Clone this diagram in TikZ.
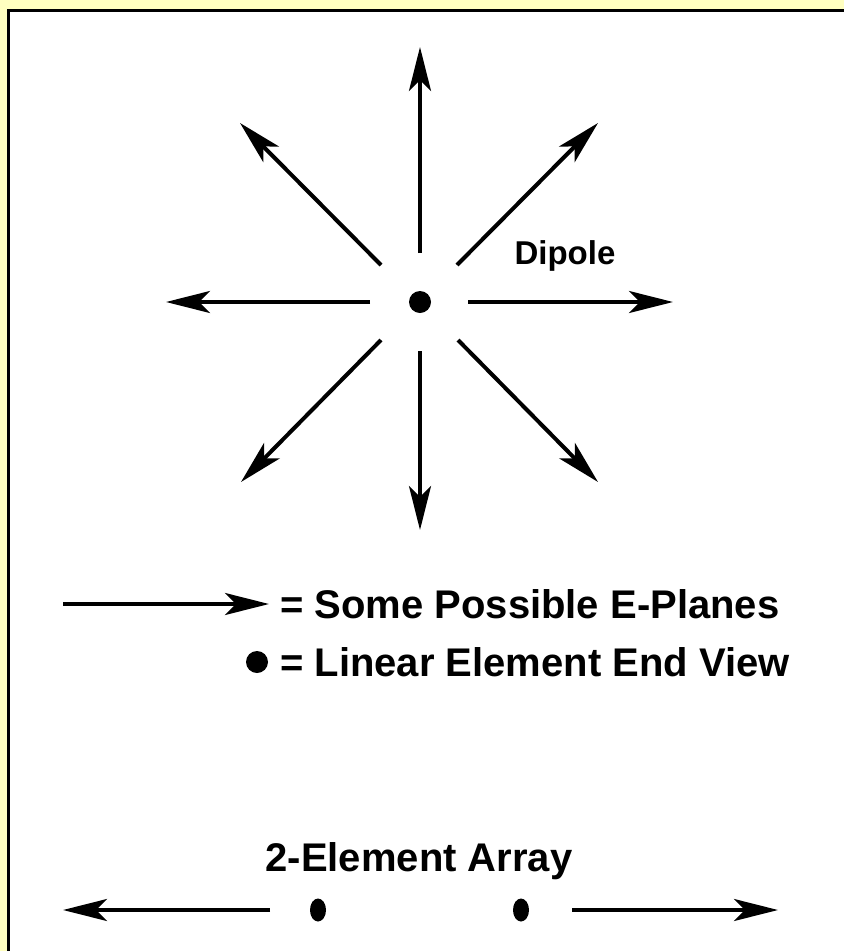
\documentclass[tikz,border=0pt]{standalone}
\usepackage{fontspec}
\setmainfont{Liberation Sans}
\usetikzlibrary{arrows.meta,shapes.geometric}
\definecolor{PageYellow}{RGB}{255,255,192}

\begin{document}
\begin{tikzpicture}[x=1pt, y=-1pt, font=\bfseries,
  eplane/.style={line width=4pt, -{Stealth[length=44pt,width=22pt,inset=11pt]}},
  elem/.style={circle, fill=black, minimum size=22pt, inner sep=0pt},
  endview/.style={ellipse, fill=black, minimum width=16pt, minimum height=23pt, inner sep=0pt},
  bigtxt/.style={inner sep=0pt, font=\bfseries\fontsize{40}{46}\selectfont},
  smalltxt/.style={inner sep=0pt, font=\bfseries\fontsize{33}{38}\selectfont}]
  \useasboundingbox (0,0) rectangle (844,951);
  \fill[PageYellow] (0,0) rectangle (844,951);
  \fill[white] (8.5,10.5) rectangle (844,951);
  \draw[line width=3.5pt] (8.5,951) -- (8.5,10.5) -- (844,10.5);

  % dipole seen end-on, with the E-planes round it
  \node[elem] (dip) at (420,302) {};
  \foreach \d/\tx/\ty/\hx/\hy in {n/420/253/420/47, ne/457/265/598/123,
      e/468/302/673/302, se/458/340/598/482, s/420/351/420/530,
      sw/381/340/241/482, w/370/302/166/302, nw/381/265/240/123} {
    \coordinate (t\d) at (\tx,\ty);
    \coordinate (h\d) at (\hx,\hy);
    \draw[eplane] (t\d) -- (h\d);
  }
  \node[smalltxt, anchor=base] (diplbl) at (565,264) {Dipole};

  % legend
  \coordinate (legtail) at (63,604);
  \coordinate (leghead) at (269,604);
  \draw[eplane] (legtail) -- (leghead);
  \node[bigtxt, anchor=base west] (leg1) at (280,618) {= Some Possible E-Planes};
  \node[elem] (legdot) at (257,662) {};
  \node[bigtxt, anchor=base west] (leg2) at (280,676) {= Linear Element End View};

  % two-element array
  \node[bigtxt, anchor=base] (arrlbl) at (419,871) {2-Element Array};
  \node[endview] (el1) at (318,910) {};
  \node[endview] (el2) at (521,910) {};
  \coordinate (ltail) at (270,910);
  \coordinate (lhead) at (63,910);
  \coordinate (rtail) at (572,910);
  \coordinate (rhead) at (778,910);
  \draw[eplane] (ltail) -- (lhead);
  \draw[eplane] (rtail) -- (rhead);
\end{tikzpicture}
\end{document}
